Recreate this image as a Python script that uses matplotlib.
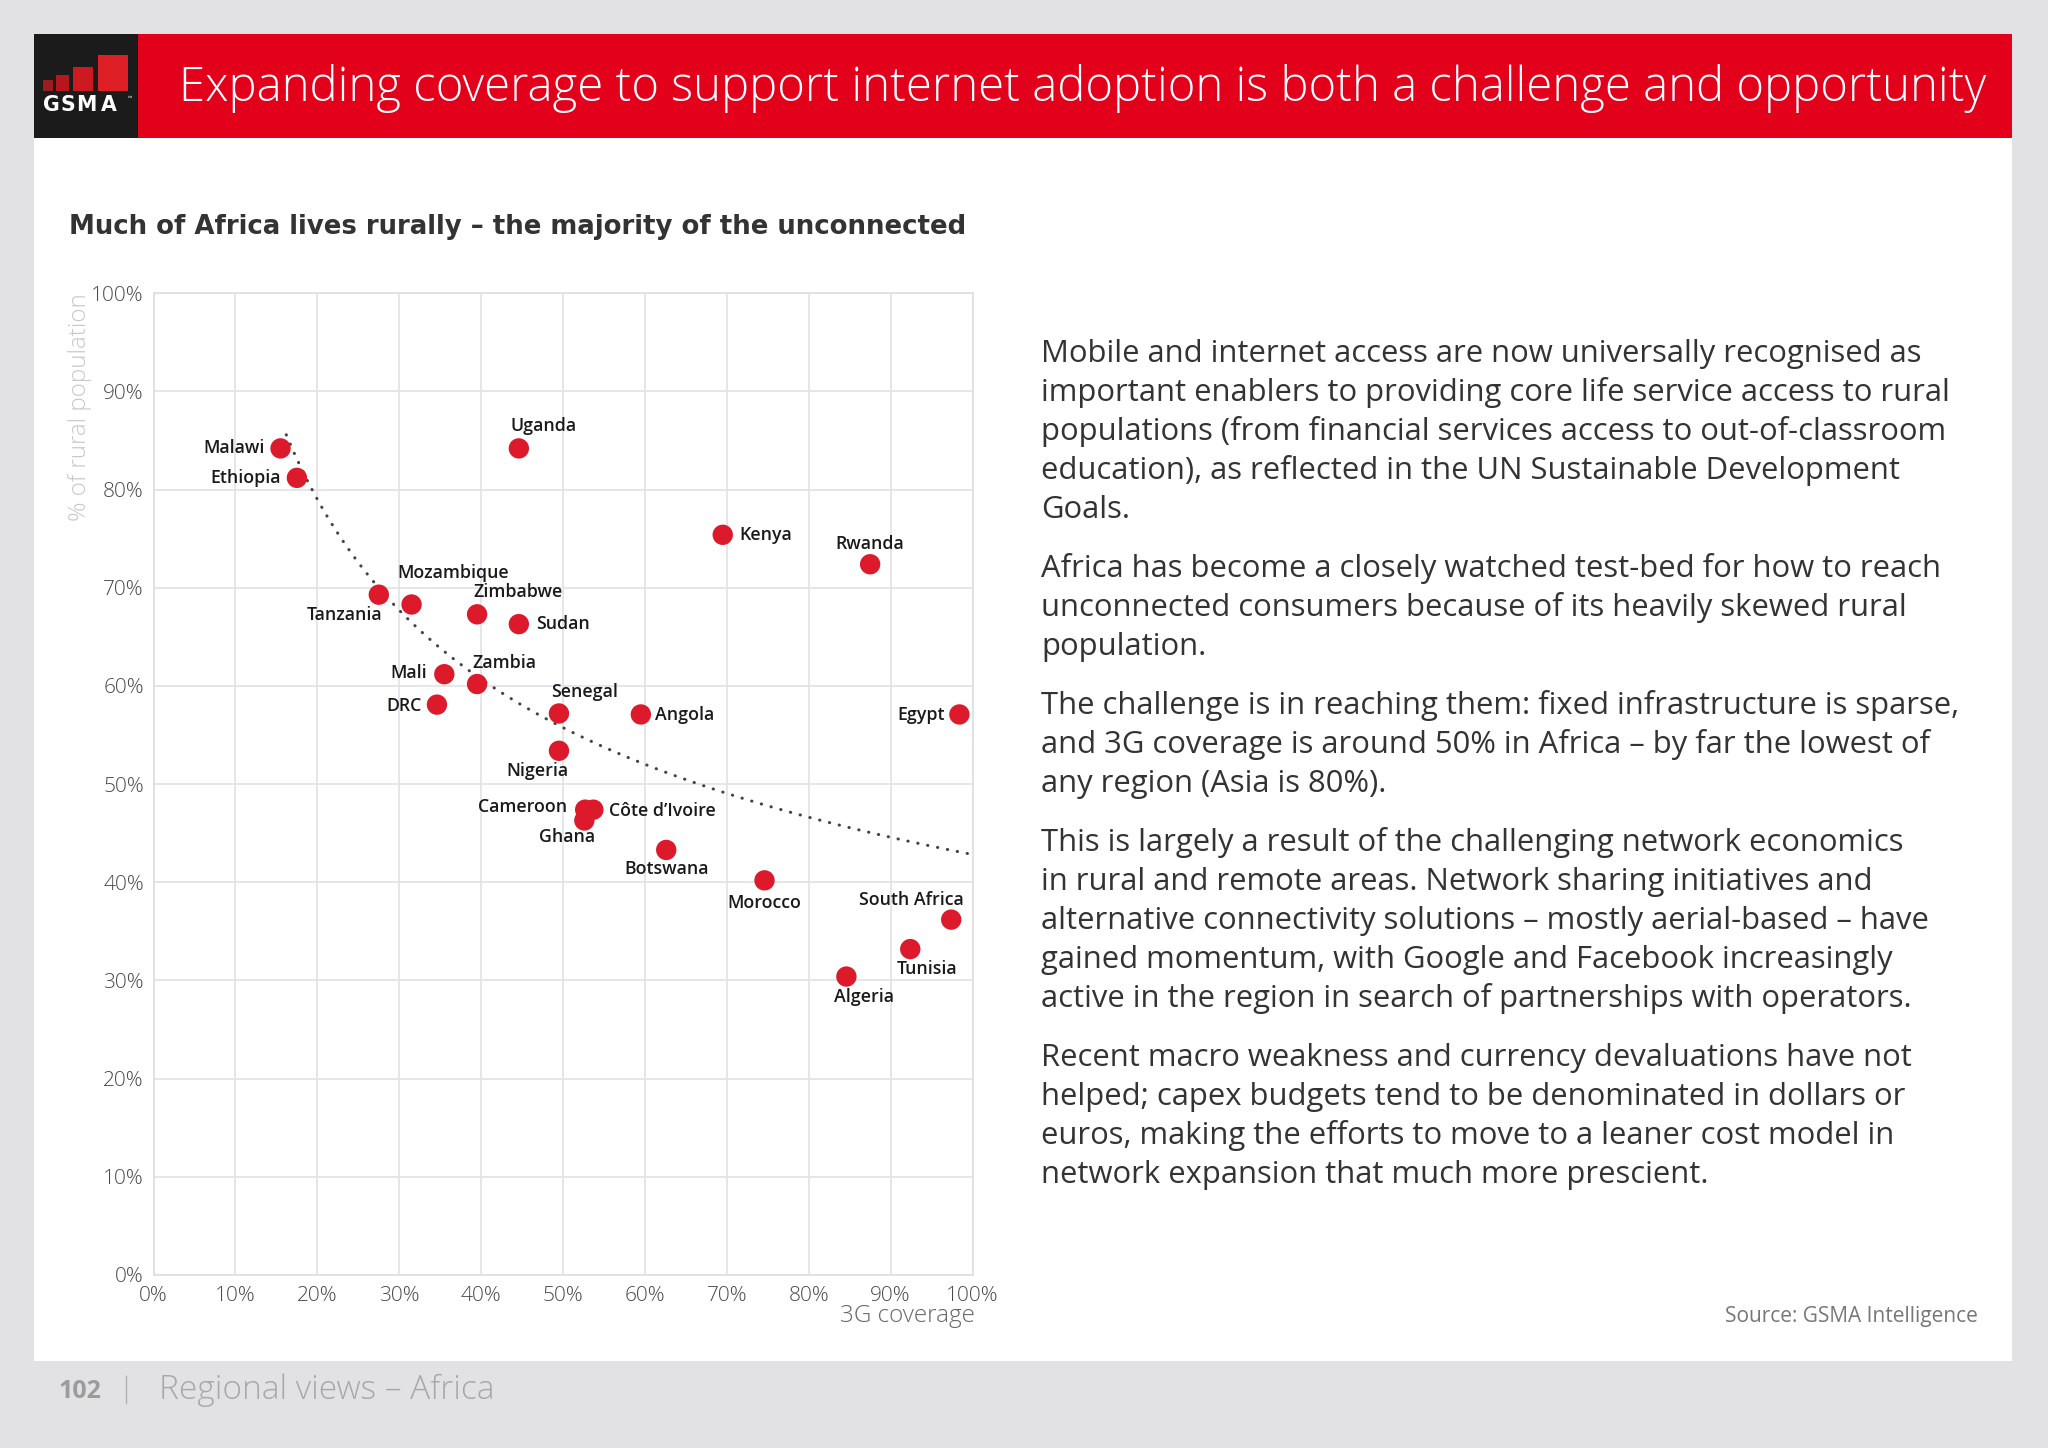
import numpy as np
import matplotlib
matplotlib.use('Agg')
import matplotlib.pyplot as plt
from matplotlib.patches import Rectangle
from matplotlib.ticker import FuncFormatter, FixedLocator

plt.rcParams['font.family'] = ['Open Sans', 'DejaVu Sans']

# ---------------- data ----------------
countries = ['Malawi', 'Ethiopia', 'Uganda', 'Tanzania', 'Mozambique', 'Zimbabwe',
             'Sudan', 'Mali', 'Zambia', 'DRC', 'Senegal', 'Kenya', 'Rwanda',
             'Angola', 'Egypt', 'Nigeria', 'Cameroon', 'Côte d’Ivoire', 'Ghana',
             'Botswana', 'Morocco', 'South Africa', 'Tunisia', 'Algeria']
coverage = [15.5, 17.5, 44.6, 27.5, 31.5, 39.5, 44.6, 35.5, 39.5, 34.6, 49.5, 69.5,
            87.5, 59.5, 98.4, 49.5, 52.7, 53.7, 52.6, 62.6, 74.6, 97.4, 92.4, 84.6]
rural = [84.2, 81.2, 84.2, 69.3, 68.3, 67.3, 66.3, 61.2, 60.2, 58.1, 57.2, 75.4,
         72.4, 57.1, 57.1, 53.4, 47.4, 47.4, 46.3, 43.3, 40.2, 36.2, 33.2, 30.4]
x_ticks = [0, 10, 20, 30, 40, 50, 60, 70, 80, 90, 100]
y_ticks = [0, 10, 20, 30, 40, 50, 60, 70, 80, 90, 100]

title = 'Expanding coverage to support internet adoption is both a challenge and opportunity'
subtitle = 'Much of Africa lives rurally – the majority of the unconnected'
x_label = '3G coverage'
y_label = '% of rural population'
source = 'Source: GSMA Intelligence'
footer_page = '102'
footer_section = 'Regional views – Africa'
paragraphs = [
    ['Mobile and internet access are now universally recognised as',
     'important enablers to providing core life service access to rural',
     'populations (from financial services access to out-of-classroom',
     'education), as reflected in the UN Sustainable Development',
     'Goals.'],
    ['Africa has become a closely watched test-bed for how to reach',
     'unconnected consumers because of its heavily skewed rural',
     'population.'],
    ['The challenge is in reaching them: fixed infrastructure is sparse,',
     'and 3G coverage is around 50% in Africa – by far the lowest of',
     'any region (Asia is 80%).'],
    ['This is largely a result of the challenging network economics',
     'in rural and remote areas. Network sharing initiatives and',
     'alternative connectivity solutions – mostly aerial-based – have',
     'gained momentum, with Google and Facebook increasingly',
     'active in the region in search of partnerships with operators.'],
    ['Recent macro weakness and currency devaluations have not',
     'helped; capex budgets tend to be denominated in dollars or',
     'euros, making the efforts to move to a leaner cost model in',
     'network expansion that much more prescient.'],
]

# label placement (pixel offsets, horizontal alignment)
label_pos = {
    'Malawi': (-16, 0, 'right'), 'Ethiopia': (-16, 0, 'right'),
    'Uganda': (-8, 22, 'left'), 'Tanzania': (4, -20, 'right'),
    'Mozambique': (-14, 31, 'left'), 'Zimbabwe': (-4, 22, 'left'),
    'Sudan': (17, 0, 'left'), 'Mali': (-17, 1, 'right'),
    'Zambia': (-5, 21, 'left'), 'DRC': (-15, -1, 'right'),
    'Senegal': (-8, 21, 'left'), 'Kenya': (17, 0, 'left'),
    'Rwanda': (0, 20, 'center'), 'Angola': (14, -1, 'left'),
    'Egypt': (-15, -1, 'right'), 'Nigeria': (-22, -20, 'center'),
    'Cameroon': (-18, 3, 'right'), 'Côte d’Ivoire': (16, -1, 'left'),
    'Ghana': (-17, -17, 'center'), 'Botswana': (0, -19, 'center'),
    'Morocco': (0, -23, 'center'), 'South Africa': (-40, 20, 'center'),
    'Tunisia': (17, -20, 'center'), 'Algeria': (18, -20, 'center'),
}

RED = '#e2001a'
DOT = '#dd1a2b'

fig = plt.figure(figsize=(20.48, 14.48), dpi=100)
fig.patch.set_facecolor('#e2e1e3')

# background / page layer in pixel coordinates
bg = fig.add_axes([0, 0, 1, 1])
bg.set_xlim(0, 2048)
bg.set_ylim(1448, 0)
bg.axis('off')
bg.add_patch(Rectangle((34, 34), 1978, 1327, facecolor='white', edgecolor='none'))
bg.add_patch(Rectangle((138, 34), 1874, 104, facecolor=RED, edgecolor='none'))
bg.add_patch(Rectangle((34, 34), 104, 104, facecolor='#1c1b1b', edgecolor='none'))
# logo bars
for (x0, x1, top, col) in [(43, 53, 80, '#9b1b1f'), (55.5, 69, 75, '#b5171d'),
                           (72.5, 93, 66.5, '#cc1a20'), (97.5, 128, 55, '#de1f26')]:
    bg.add_patch(Rectangle((x0, top), x1 - x0, 91 - top, facecolor=col, edgecolor='none'))
for ch, lx in zip('GSMA', [42.5, 60, 76, 101]):
    bg.text(lx, 111, ch, color='white', fontsize=14.8, fontweight='bold',
            family='DejaVu Sans', va='baseline', ha='left')
bg.text(127.5, 100, '™', color='white', fontsize=4, va='baseline', ha='left')

bg.text(179, 101, title, color='white', fontsize=34, fontweight='light', va='baseline', ha='left')
bg.text(69, 234, subtitle, color='#333333', fontsize=18.7, fontweight='bold',
        family='DejaVu Sans', va='baseline', ha='left')

# body text
line_h = 39
para_gap = 20
y0 = 362
li = 0
for pi, para in enumerate(paragraphs):
    for line in para:
        bg.text(1041, y0 + li * line_h + pi * para_gap, line, color='#333333',
                fontsize=22.3, va='baseline', ha='left')
        li += 1

bg.text(1978, 1322, source, color='#777777', fontsize=15, va='baseline', ha='right')
bg.text(80, 293, y_label, color='#c8c8c8', fontsize=17.4, fontweight='light',
        rotation=90, ha='center', va='top')
bg.text(975, 1322, x_label, color='#666666', fontsize=17.5, fontweight='light',
        va='baseline', ha='right')

# footer
bg.text(59, 1398, footer_page, color='#9c9c9c', fontsize=18, fontweight='bold', va='baseline', ha='left')
bg.plot([125.5, 125.5], [1376, 1403], color='#b0b0b0', lw=1)
bg.text(159, 1399, footer_section, color='#a8a8a8', fontsize=24, fontweight='light',
        va='baseline', ha='left')

# ---------------- scatter ----------------
ax = fig.add_axes([153.6 / 2048, 173 / 1448, (972.5 - 153.6) / 2048, (1275 - 293.3) / 1448])
ax.set_facecolor('none')
ax.set_xlim(0, 100)
ax.set_ylim(0, 100)
ax.xaxis.set_major_locator(FixedLocator(x_ticks))
ax.yaxis.set_major_locator(FixedLocator(y_ticks))
pct = FuncFormatter(lambda v, p: f'{v:.0f}%')
ax.xaxis.set_major_formatter(pct)
ax.yaxis.set_major_formatter(pct)
ax.grid(True, color='#e4e4e8', lw=1.3)
ax.set_axisbelow(True)
for s in ax.spines.values():
    s.set_color('#e0e0e4')
    s.set_linewidth(1.3)
ax.tick_params(length=0, labelsize=15, labelcolor='#4a4a4a')
ax.tick_params(axis='x', pad=8)
ax.tick_params(axis='y', pad=7)
for t in ax.get_xticklabels() + ax.get_yticklabels():
    t.set_fontweight('light')

# power trendline fitted from the data (Excel-style)
cx = np.array(coverage)
ry = np.array(rural)
b, lna = np.polyfit(np.log(cx), np.log(ry), 1)
tx = np.linspace(cx.min() + 0.7, 99.7, 200)
ax.plot(tx, np.exp(lna) * tx ** b, color='#444444', lw=2.2,
        linestyle=(0, (0.1, 3.2)), dash_capstyle='round', zorder=2)

ax.scatter(cx, ry, s=215, color=DOT, edgecolors='none', zorder=3, clip_on=False)

for name, xv, yv in zip(countries, coverage, rural):
    dx, dy, ha = label_pos[name]
    ax.annotate(name, (xv, yv), xytext=(dx, dy), textcoords='offset pixels',
                ha=ha, va='center', fontsize=12.8, fontweight='semibold',
                color='#1a1a1a', zorder=4)

fig.savefig('out.png', dpi=100, facecolor=fig.get_facecolor())
